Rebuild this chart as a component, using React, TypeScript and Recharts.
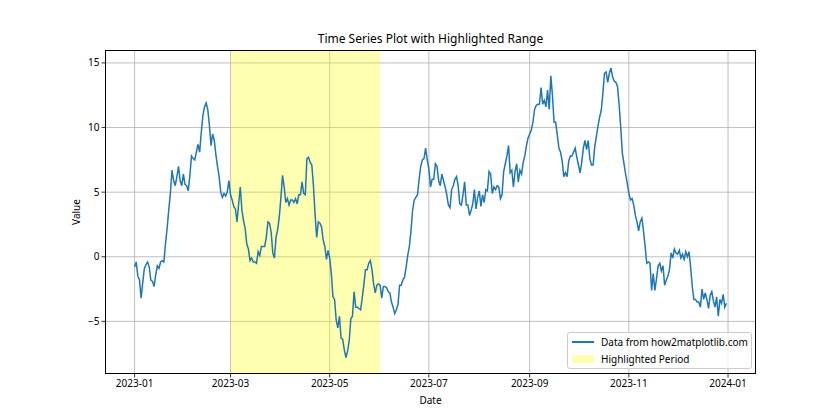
import React from 'react';
import { LineChart, Line, XAxis, YAxis, CartesianGrid, ReferenceArea } from 'recharts';

// daily values, one array per month of 2023
const jan = [-0.8, -0.4, -1.5, -1.8, -3.2, -2.0, -0.9, -0.6, -0.4, -0.8, -1.8, -1.9, -2.3, -1.4, -0.7, -0.9, -0.4, -0.3, -0.4, 1.0, 2.2, 3.6, 4.9, 6.7, 5.9, 5.5, 6.2, 7.0, 5.9, 5.5, 6.4];
const feb = [5.6, 5.5, 5.1, 6.3, 7.8, 7.6, 7.5, 8.1, 8.7, 8.1, 9.6, 10.9, 11.6, 11.9, 11.4, 10.2, 8.6, 9.5, 9.0, 7.9, 7.0, 6.2, 5.0, 4.6, 4.9, 4.7, 5.0, 5.9];
const mar = [4.8, 4.4, 3.9, 3.7, 2.7, 4.1, 5.4, 3.6, 2.8, 2.2, 1.0, 0.6, -0.3, -0.1, -0.4, -0.4, -0.5, 0.4, 0.1, 0.8, 0.8, 0.8, 1.5, 2.7, 2.6, 1.9, 0.3, -0.1, 1.5, 2.1, 3.1];
const apr = [4.6, 6.3, 5.4, 4.2, 4.5, 4.0, 4.4, 4.4, 4.2, 4.5, 4.1, 4.8, 4.8, 5.8, 4.9, 4.8, 7.6, 7.7, 7.3, 7.1, 5.5, 3.3, 1.5, 2.7, 2.6, 2.3, 1.3, 0.8, -0.2, 0.5];
const may = [-0.1, -1.3, -3.1, -3.3, -4.9, -5.5, -4.6, -6.3, -6.4, -7.2, -7.8, -7.3, -6.5, -4.8, -4.6, -2.7, -3.9, -3.9, -4.0, -4.1, -3.2, -2.2, -1.0, -1.0, -0.5, -0.3, -1.0, -2.1, -2.8, -2.2, -2.1];
const jun = [-2.2, -3.2, -2.3, -2.3, -2.4, -2.7, -2.8, -3.5, -3.9, -4.4, -4.1, -3.7, -2.2, -2.2, -1.8, -1.6, -0.8, 0.1, 0.8, 2.0, 3.6, 4.4, 4.6, 4.8, 6.0, 7.0, 7.5, 7.6, 8.4, 7.5];
const jul = [6.8, 5.4, 6.0, 6.0, 7.2, 7.0, 5.9, 5.5, 6.4, 5.9, 5.4, 4.8, 4.0, 3.8, 5.2, 5.5, 6.0, 6.2, 5.5, 4.1, 4.0, 4.8, 5.8, 4.0, 4.0, 3.2, 3.6, 4.1, 5.2, 3.7, 4.6];
const aug = [5.1, 3.9, 4.8, 4.2, 5.2, 5.1, 6.6, 6.4, 4.9, 5.4, 5.2, 5.5, 5.4, 4.5, 4.8, 6.6, 7.2, 7.8, 8.6, 6.5, 6.7, 5.4, 6.6, 7.2, 5.8, 6.7, 6.4, 7.3, 7.8, 8.6, 9.2];
const sep = [9.5, 9.8, 10.4, 11.4, 11.7, 11.8, 11.8, 13.1, 11.8, 12.1, 11.6, 12.9, 11.4, 14.0, 12.5, 10.4, 10.4, 9.4, 8.4, 8.1, 7.4, 6.2, 6.5, 6.2, 7.4, 7.8, 7.8, 8.1, 8.4, 7.7];
const oct = [7.1, 6.5, 7.3, 8.4, 9.0, 8.3, 9.0, 7.6, 7.1, 7.1, 8.5, 9.3, 10.1, 10.8, 11.3, 12.6, 14.2, 14.3, 13.5, 14.2, 14.6, 13.9, 13.6, 13.5, 13.2, 11.8, 10.0, 8.0, 7.2, 6.4, 5.7];
const nov = [4.9, 4.4, 4.5, 4.0, 3.2, 2.7, 2.0, 2.7, 3.0, 2.0, 0.8, -0.5, -0.4, -0.5, -2.6, -1.3, -2.6, -1.7, -0.7, -0.5, -1.1, -0.7, -2.2, -1.8, -1.5, -1.0, 0.3, -0.1, 0.6, 0.3];
const dec = [0.2, 0.5, -0.1, 0.2, -0.2, 0.4, 0.0, 0.4, -0.8, -2.3, -3.3, -3.3, -3.5, -3.5, -3.9, -2.5, -3.3, -2.8, -3.3, -4.0, -3.0, -2.7, -3.4, -3.9, -3.1, -4.6, -3.3, -3.6, -2.9, -3.9, -3.6];

// x is "days since 2023-01-01"
const xTicks = [0, 59, 120, 181, 243, 304, 365];
const xTickLabels = ['2023-01', '2023-03', '2023-05', '2023-07', '2023-09', '2023-11', '2024-01'];
const yTicks = [-5, 0, 5, 10, 15];
const highlightStart = 59; // 2023-03-01
const highlightEnd = 151; // 2023-06-01

const values = [...jan, ...feb, ...mar, ...apr, ...may, ...jun, ...jul, ...aug, ...sep, ...oct, ...nov, ...dec];
const data = values.map((v, i) => ({ day: i, value: v }));

const FONT = '"Noto Sans", "DejaVu Sans", sans-serif';
const BLUE = '#1f77b4';

const W = 840;
const H = 420;
const PL = 105, PR = 756, PT = 50, PB = 374;

export default function App() {
  const tickStyle = { fontSize: 10, fill: '#000', fontFamily: FONT };
  return (
    <div style={{ position: 'absolute', left: 0, top: 0, width: W, height: H, background: '#fff', fontFamily: FONT }}>
      <LineChart
        width={W}
        height={H}
        data={data}
        margin={{ top: PT, right: W - PR, bottom: H - PB - 30, left: PL - 50 }}
      >
        <ReferenceArea x1={highlightStart} x2={highlightEnd} fill="#ffff00" fillOpacity={0.3} stroke="none" ifOverflow="hidden" />
        <CartesianGrid stroke="#b0b0b0" strokeWidth={0.8} horizontalValues={yTicks} verticalValues={xTicks} />
        <XAxis
          type="number"
          dataKey="day"
          domain={[-18.2, 382.2]}
          ticks={xTicks}
          interval={0}
          allowDataOverflow
          height={30}
          axisLine={false}
          tickLine={{ stroke: '#000', strokeWidth: 0.8 }}
          tickSize={3.5}
          tickMargin={2}
          tick={tickStyle}
          tickFormatter={(v: number) => xTickLabels[xTicks.indexOf(v)]}
        />
        <YAxis
          type="number"
          domain={[-9.07, 16.0]}
          ticks={yTicks}
          interval={0}
          allowDataOverflow
          width={50}
          axisLine={false}
          tickLine={{ stroke: '#000', strokeWidth: 0.8 }}
          tickSize={3.5}
          tickMargin={2}
          tick={tickStyle}
          tickFormatter={(v: number) => (v < 0 ? '\u2212' + Math.abs(v) : String(v))}
        />
        <Line
          type="linear"
          dataKey="value"
          stroke={BLUE}
          strokeWidth={1.5}
          dot={false}
          activeDot={false}
          isAnimationActive={false}
        />
      </LineChart>

      {/* axes frame */}
      <div style={{ position: 'absolute', left: PL, top: PT, width: PR - PL, height: PB - PT, border: '1px solid #000', boxSizing: 'border-box', pointerEvents: 'none' }} />

      {/* title and axis labels */}
      <div style={{ position: 'absolute', left: 0, width: W - 0, top: 31, textAlign: 'center', fontSize: 12, lineHeight: '16px', paddingLeft: 0 }}>
        <span style={{ position: 'relative', left: (PL + PR) / 2 - W / 2 }}>Time Series Plot with Highlighted Range</span>
      </div>
      <div style={{ position: 'absolute', left: PL, width: PR - PL, top: 393, textAlign: 'center', fontSize: 10, lineHeight: '14px' }}>Date</div>
      <div style={{ position: 'absolute', left: 76 - 40, top: (PT + PB) / 2 - 7, width: 80, textAlign: 'center', fontSize: 10, lineHeight: '14px', transform: 'rotate(-90deg)' }}>Value</div>

      {/* legend */}
      <div style={{ position: 'absolute', left: 567, top: 332, width: 185, height: 37, border: '1px solid #cccccc', borderRadius: 3, background: 'rgba(255,255,255,0.8)', boxSizing: 'border-box', fontSize: 10 }}>
        <div style={{ position: 'absolute', left: 4, top: 8, width: 22, height: 1.5, background: BLUE }} />
        <div style={{ position: 'absolute', left: 33, top: 1, lineHeight: '16px' }}>Data from how2matplotlib.com</div>
        <div style={{ position: 'absolute', left: 4, top: 22, width: 22, height: 7.5, background: 'rgba(255,255,0,0.3)' }} />
        <div style={{ position: 'absolute', left: 33, top: 18, lineHeight: '16px' }}>Highlighted Period</div>
      </div>
    </div>
  );
}
